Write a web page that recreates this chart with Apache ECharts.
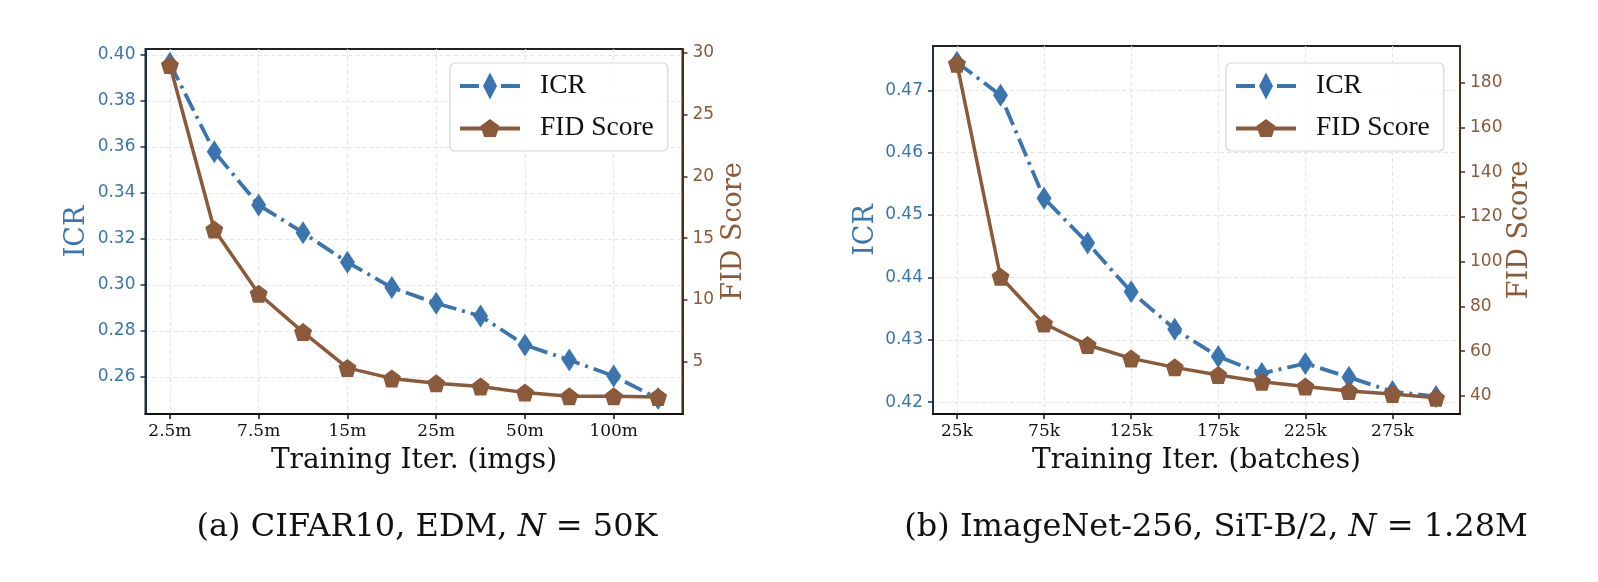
<!DOCTYPE html>
<html>
<head>
<meta charset="utf-8">
<script src="https://cdn.jsdelivr.net/npm/echarts@6/dist/echarts.min.js"></script>
<style>
  html, body { margin: 0; padding: 0; background: #fff; }
  #chart { width: 1598px; height: 582px; }
</style>
</head>
<body>
<div id="chart"></div>
<script>
// (a) CIFAR10 — 12 checkpoints, only every other one labelled
const cifarTicks = ['2.5m', '7.5m', '15m', '25m', '50m', '100m']
const cifarIcr = [0.3964, 0.3579, 0.3347, 0.3227, 0.3098, 0.2988, 0.2920, 0.2864, 0.2738, 0.2673, 0.2603, 0.2505]
const cifarFid = [29.0, 15.7, 10.5, 7.4, 4.5, 3.65, 3.25, 3.0, 2.5, 2.2, 2.2, 2.15]

// (b) ImageNet-256 — batches in thousands
const imnetIters = [25, 50, 75, 100, 125, 150, 175, 200, 225, 250, 275, 300]
const imnetTicks = [25, 75, 125, 175, 225, 275]
const imnetIcr = [0.4745, 0.4692, 0.4527, 0.4455, 0.4377, 0.4317, 0.4273, 0.4246, 0.4262, 0.4240, 0.4217, 0.4209]
const imnetFid = [188.5, 93.3, 72.4, 62.8, 56.8, 52.8, 49.4, 46.4, 44.2, 42.2, 40.9, 39.2]

const cifarIcrTicks = [0.26, 0.28, 0.30, 0.32, 0.34, 0.36, 0.38, 0.40]
const cifarFidTicks = [5, 10, 15, 20, 25, 30]
const imnetIcrTicks = [0.42, 0.43, 0.44, 0.45, 0.46, 0.47]
const imnetFidTicks = [40, 60, 80, 100, 120, 140, 160, 180]

const BLUE = '#3b75af'
const BROWN = '#8b5a3a'
const SERIF = '"DejaVu Serif", serif'
const SANS = '"DejaVu Sans", sans-serif'
const PENTAGON = 'path://M0,-1 L0.951,-0.309 L0.588,0.809 L-0.588,0.809 L-0.951,-0.309 Z'

// legend icons: line + marker in one filled path
const ICR_ICON = 'path://M0,11.5 H19 V15.5 H0 Z M30,0 L37,13.5 L30,27 L23,13.5 Z M41,11.5 H60 V15.5 H41 Z'
const FID_ICON = 'path://M0,11.5 H60 V15.5 H0 Z M30,4 L39.5,11 L35.9,22 L24.1,22 L20.5,11 Z'

const chart = echarts.init(document.getElementById('chart'), null, { renderer: 'canvas' })

const gridLine = { show: true, lineStyle: { color: '#e4e4e4', type: [4, 3], width: 1 } }

function xAxis(gridIndex, min, max, ticks, fmt) {
  return {
    type: 'value', gridIndex, min, max,
    name: gridIndex === 0 ? 'Training Iter. (imgs)' : 'Training Iter. (batches)',
    nameLocation: 'middle', nameGap: 33,
    nameTextStyle: { fontFamily: SERIF, fontSize: 28, color: '#111' },
    axisLine: { show: true, onZero: false, lineStyle: { color: '#111', width: 2 } },
    axisTick: { show: true, customValues: ticks, length: 5, lineStyle: { color: '#111', width: 1.5 } },
    axisLabel: { customValues: ticks, formatter: fmt, fontFamily: SERIF, fontSize: 17, color: '#111', margin: 9 },
    splitLine: gridLine
  }
}

function yAxis(gridIndex, side, min, max, ticks, color, lineColor, name, gap, fmt) {
  return {
    type: 'value', gridIndex, position: side, min, max,
    name, nameLocation: 'middle', nameGap: gap, nameRotate: 90,
    nameTextStyle: { fontFamily: SERIF, fontSize: 27, color },
    axisLine: { show: true, onZero: false, lineStyle: { color: lineColor, width: 2 } },
    axisTick: { show: true, customValues: ticks, length: 5, lineStyle: { color: lineColor, width: 1.5 } },
    axisLabel: { customValues: ticks, formatter: fmt, fontFamily: SANS, fontSize: 17, color, margin: 10 },
    splitLine: side === 'left' ? gridLine : { show: false }
  }
}

function icrSeries(xi, yi, data) {
  return {
    name: 'ICR', type: 'line', xAxisIndex: xi, yAxisIndex: yi, data,
    symbol: 'diamond', symbolSize: [15, 23],
    lineStyle: { color: BLUE, width: 3.8, type: [19, 6, 3, 6] },
    itemStyle: { color: BLUE }, z: 2
  }
}

function fidSeries(xi, yi, data) {
  return {
    name: 'FID Score', type: 'line', xAxisIndex: xi, yAxisIndex: yi, data,
    symbol: PENTAGON, symbolSize: 18,
    lineStyle: { color: BROWN, width: 3.5 },
    itemStyle: { color: BROWN }, z: 3
  }
}

function legend(left, top) {
  return {
    orient: 'vertical', left, top,
    padding: [9, 14, 9, 10], itemGap: 14, itemWidth: 60, itemHeight: 27,
    backgroundColor: 'rgba(255,255,255,0.85)',
    borderColor: '#d6d6d6', borderWidth: 1.2, borderRadius: 5,
    textStyle: { fontFamily: '"Liberation Serif", serif', fontSize: 27.5, color: '#111', padding: [0, 0, 0, 15] },
    data: [
      { name: 'ICR', icon: ICR_ICON },
      { name: 'FID Score', icon: FID_ICON }
    ]
  }
}

const idx = (v) => cifarTicks[v / 2]

const capStyle = {
  fontFamily: SERIF, fontSize: 32, fontWeight: 'normal', color: '#111',
  rich: { i: { fontFamily: SERIF, fontSize: 32, fontStyle: 'italic', color: '#111' } }
}

const option = {
  animation: false,
  backgroundColor: '#fff',
  title: [
    { text: '(a) CIFAR10, EDM, {i|N} = 50K', left: 422, top: 507, textAlign: 'center', textStyle: capStyle },
    { text: '(b) ImageNet-256, SiT-B/2, {i|N} = 1.28M', left: 1211, top: 507, textAlign: 'center', textStyle: capStyle }
  ],
  legend: [legend(450, 63), legend(1226, 63)],
  grid: [
    { left: 145.5, top: 49, width: 537, height: 365, show: true, borderColor: '#222', borderWidth: 2, backgroundColor: 'transparent' },
    { left: 933, top: 46, width: 527, height: 368, show: true, borderColor: '#222', borderWidth: 2, backgroundColor: 'transparent' }
  ],
  xAxis: [
    xAxis(0, -0.55, 11.55, [0, 2, 4, 6, 8, 10], idx),
    xAxis(1, 11.25, 313.75, imnetTicks, (v) => v + 'k')
  ],
  yAxis: [
    yAxis(0, 'left', 0.2438, 0.4026, cifarIcrTicks, BLUE, '#1b2f4a', 'ICR', 55, (v) => v.toFixed(2)),
    yAxis(0, 'right', 0.77, 30.3, cifarFidTicks, BROWN, '#4a2e1c', 'FID Score', 38, (v) => String(v)),
    yAxis(1, 'left', 0.4181, 0.4771, imnetIcrTicks, BLUE, '#1b2f4a', 'ICR', 54, (v) => v.toFixed(2)),
    yAxis(1, 'right', 31.96, 196.4, imnetFidTicks, BROWN, '#4a2e1c', 'FID Score', 46, (v) => String(v))
  ],
  series: [
    icrSeries(0, 0, cifarIcr.map((v, i) => [i, v])),
    fidSeries(0, 1, cifarFid.map((v, i) => [i, v])),
    icrSeries(1, 2, imnetIcr.map((v, i) => [imnetIters[i], v])),
    fidSeries(1, 3, imnetFid.map((v, i) => [imnetIters[i], v]))
  ]
}

chart.setOption(option)
</script>
</body>
</html>
